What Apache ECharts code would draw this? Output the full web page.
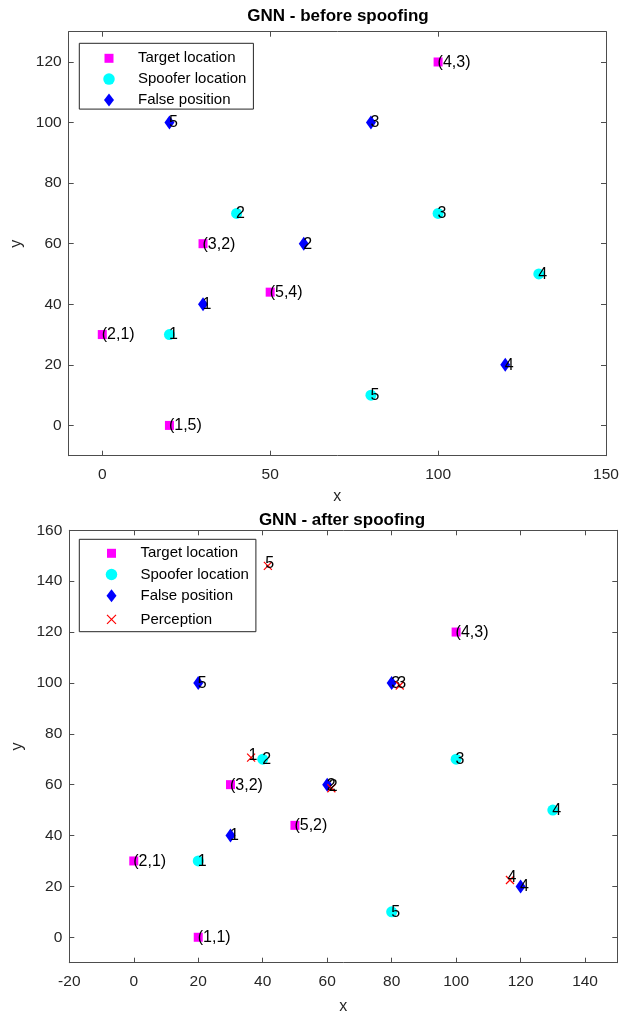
<!DOCTYPE html>
<html><head><meta charset="utf-8">
<script src="https://cdn.jsdelivr.net/npm/echarts@6/dist/echarts.min.js"></script>
<style>html,body{margin:0;padding:0;background:#fff}#c{width:628px;height:1016px}</style>
</head><body><div id="c"></div>
<script>
// ---- data ----
const topTitle = 'GNN - before spoofing';
const botTitle = 'GNN - after spoofing';
const topXTicks = [0, 50, 100, 150];
const topYTicks = [0, 20, 40, 60, 80, 100, 120];
const botXTicks = [-20, 0, 20, 40, 60, 80, 100, 120, 140];
const botYTicks = [0, 20, 40, 60, 80, 100, 120, 140, 160];

const targetPts = [[100, 120], [30, 60], [50, 44], [0, 30], [20, 0]];
const targetLabelsBefore = ['(4,3)', '(3,2)', '(5,4)', '(2,1)', '(1,5)'];
const targetLabelsAfter = ['(4,3)', '(3,2)', '(5,2)', '(2,1)', '(1,1)'];
const spooferPts = [[20, 30], [40, 70], [100, 70], [130, 50], [80, 10]];
const spooferLabels = ['1', '2', '3', '4', '5'];
const falsePts = [[30, 40], [60, 60], [80, 100], [120, 20], [20, 100]];
const falseLabels = ['1', '2', '3', '4', '5'];
const perceptionPts = [[36.4, 70.6], [61.3, 58.6], [82.5, 99], [116.7, 22.5], [41.6, 146]];
const perceptionLabels = ['1', '2', '3', '4', '5'];

const legendNames = ['Target location', 'Spoofer location', 'False position', 'Perception'];

// ---- styles ----
const FONT = 'Liberation Sans, Arial, Helvetica, sans-serif';
const AX = '#4d4d4d';
const TXT = '#262626';
const COLORS = ['#ff00ff', '#00ffff', '#0000ff', '#ff0000'];
const crossPath = 'path://M0,0L10,10M10,0L0,10';
const icons = [
  'path://M0,0M16,16M3.5,3.5L12.5,3.5L12.5,12.5L3.5,12.5Z',
  'path://M0,0M16,16M2.25,8A5.75,5.75,0,1,1,13.75,8A5.75,5.75,0,1,1,2.25,8Z',
  'path://M0,0M16,16M8,1.5L13,8L8,14.5L3,8Z',
  'path://M0,0M16,16M3.5,3.5L12.5,12.5M12.5,3.5L3.5,12.5'
];

function pts(arr, labels) {
  return arr.map((p, i) => ({ value: p, name: labels[i] }));
}
function lbl(dx, dy) {
  return { show: true, position: [dx, dy], align: 'left', verticalAlign: 'middle',
    formatter: '{b}', color: '#000', fontSize: 16, fontFamily: FONT };
}
function mkSeries(g, withPerception, targetLabels) {
  const s = [
    { name: legendNames[0], type: 'scatter', xAxisIndex: 2 * g, yAxisIndex: 2 * g,
      symbol: 'rect', symbolSize: 9, itemStyle: { color: COLORS[0], opacity: 1 },
      label: lbl(4, 5), data: pts(targetPts, targetLabels), z: 3 },
    { name: legendNames[1], type: 'scatter', xAxisIndex: 2 * g, yAxisIndex: 2 * g,
      symbol: 'circle', symbolSize: 11, itemStyle: { color: COLORS[1], opacity: 1 },
      label: lbl(5, 6), data: pts(spooferPts, spooferLabels), z: 3 },
    { name: legendNames[2], type: 'scatter', xAxisIndex: 2 * g, yAxisIndex: 2 * g,
      symbol: 'diamond', symbolSize: [10, 14], itemStyle: { color: COLORS[2], opacity: 1 },
      label: lbl(4.5, 7.5), data: pts(falsePts, falseLabels), z: 3 }
  ];
  if (withPerception) {
    s.push({ name: legendNames[3], type: 'scatter', xAxisIndex: 2 * g, yAxisIndex: 2 * g,
      symbol: crossPath, symbolSize: 8,
      itemStyle: { color: 'none', borderColor: COLORS[3], borderWidth: 1.2, opacity: 1 },
      label: lbl(4, 4.5), data: pts(perceptionPts, perceptionLabels), z: 4 });
  }
  return s;
}
function xAxes(g, min, max, ticks, gap) {
  const base = { type: 'value', gridIndex: g, min: min, max: max, splitLine: { show: false },
    axisLine: { show: true, onZero: false, lineStyle: { color: AX, width: 1 } },
    axisTick: { show: true, inside: true, length: 5, customValues: ticks, lineStyle: { color: AX } } };
  return [
    Object.assign({}, base, { position: 'bottom', name: 'x', nameLocation: 'middle', nameGap: gap,
      nameTextStyle: { fontSize: 16, color: TXT, fontFamily: FONT },
      axisLabel: { show: true, customValues: ticks, margin: 11, fontSize: 15.5, color: TXT, fontFamily: FONT } }),
    Object.assign({}, base, { position: 'top', axisLabel: { show: false } })
  ];
}
function yAxes(g, min, max, ticks) {
  const base = { type: 'value', gridIndex: g, min: min, max: max, splitLine: { show: false },
    axisLine: { show: true, onZero: false, lineStyle: { color: AX, width: 1 } },
    axisTick: { show: true, inside: true, length: 5, customValues: ticks, lineStyle: { color: AX } } };
  return [
    Object.assign({}, base, { position: 'left', name: 'y', nameLocation: 'middle', nameGap: 42, nameRotate: 90,
      nameTextStyle: { fontSize: 16, color: TXT, fontFamily: FONT },
      axisLabel: { show: true, customValues: ticks, margin: 7, fontSize: 15.5, color: TXT, fontFamily: FONT } }),
    Object.assign({}, base, { position: 'right', axisLabel: { show: false } })
  ];
}
function mkLegend(n, left, top, gap, pad) {
  const data = [];
  for (let i = 0; i < n; i++) {
    const d = { name: legendNames[i], icon: icons[i] };
    if (i === 3) d.itemStyle = { color: 'none', borderColor: COLORS[3], borderWidth: 1.2 };
    data.push(d);
  }
  return { left: left, top: top, orient: 'vertical', data: data, selectedMode: false,
    itemWidth: 48, itemHeight: 16, itemGap: gap, padding: pad,
    borderColor: '#262626', borderWidth: 1, backgroundColor: '#fff', borderRadius: 0,
    textStyle: { fontSize: 15, color: '#000', fontFamily: FONT } };
}

const chart = echarts.init(document.getElementById('c'), null, { renderer: 'canvas' });
chart.setOption({
  backgroundColor: '#fff',
  animation: false,
  title: [
    { text: topTitle, left: 333, top: 3, textAlign: 'center',
      textStyle: { fontSize: 17, fontWeight: 'bold', color: '#000', fontFamily: FONT } },
    { text: botTitle, left: 337, top: 507, textAlign: 'center',
      textStyle: { fontSize: 17, fontWeight: 'bold', color: '#000', fontFamily: FONT } }
  ],
  grid: [
    { left: 68.7, top: 31.7, width: 537.3, height: 424, containLabel: false },
    { left: 69.3, top: 530.3, width: 548, height: 432.4, containLabel: false }
  ],
  xAxis: [].concat(xAxes(0, -10, 150, topXTicks, 33), xAxes(1, -20, 150, botXTicks, 36)),
  yAxis: [].concat(yAxes(0, -10, 130, topYTicks), yAxes(1, -10, 160, botYTicks)),
  legend: [
    mkLegend(3, 79.3, 43.3, 4.8, [7, 7, 1.2, 21.7]),
    mkLegend(4, 79.3, 539.3, 5.2, [6, 7, 1.8, 21.7])
  ],
  series: [].concat(mkSeries(0, false, targetLabelsBefore), mkSeries(1, true, targetLabelsAfter))
});
</script>
</body></html>
